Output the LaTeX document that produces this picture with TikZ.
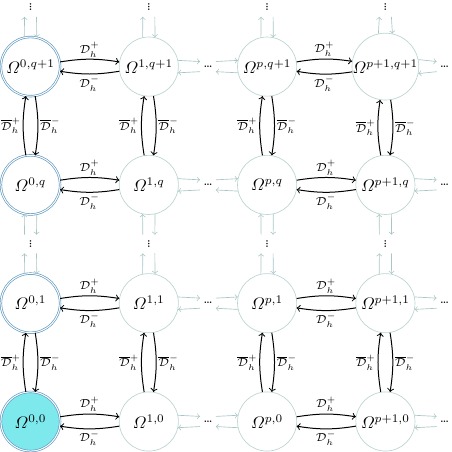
\documentclass[tikz,border=0pt]{standalone}
\usepackage{amsmath}
\usepackage{graphicx}
\definecolor{gl}{RGB}{168,198,196}
\definecolor{gc}{RGB}{186,212,210}
\definecolor{bl}{RGB}{95,152,192}
\definecolor{cy}{RGB}{125,233,237}
\begin{document}
\begin{tikzpicture}[x=2.5cm,y=2.5cm,
  om/.style={circle,draw=gc,inner sep=0pt,minimum size=1.25cm},
  omb/.style={circle,draw=bl,double,double distance=0.6pt,inner sep=0pt,minimum size=1.25cm},
  dk/.style={->,semithick,bend left=9},
  lt/.style={->,gl},
  dotsfont/.style={font=\fontsize{5.5}{6}\selectfont\bfseries},
  hd/.style={dotsfont,inner sep=0pt,minimum width=0.32cm,minimum height=0.2cm},
  vd/.style={dotsfont,inner sep=0pt,minimum width=0.24cm,minimum height=0.38cm},
  lab/.style={font=\scriptsize,inner sep=1pt}]
\useasboundingbox (-0.258,-0.258) rectangle (3.563,3.563);
% column 0
\node[omb,fill=cy] (n00) at (0,0) {$\varOmega^{0,0}$};
\node[omb] (n01) at (0,1) {$\varOmega^{0,1}$};
\node[omb] (n02) at (0,2) {$\varOmega^{0,q}$};
\node[omb] (n03) at (0,3) {$\varOmega^{0,q+1}$};
% other columns
\foreach \c/\cs in {1/1,2/p,3/p+1}
  \foreach \r/\rs in {0/0,1/1,2/q,3/q+1}
    \node[om] (n\c\r) at (\c,\r) {$\varOmega^{\cs,\rs}$};
% dots nodes
\foreach \r in {0,1,2,3} {
  \node[hd] (m\r) at (1.5,\r) {\ldots};
  \node[hd] (e\r) at (3.5,\r) {\ldots};
}
\foreach \c in {0,1,2,3} {
  \node[vd] (v\c) at (\c,1.5) {\rotatebox{90}{\ldots}};
  \node[vd] (t\c) at (\c,3.5) {\rotatebox{90}{\ldots}};
}
% black horizontal arrows
\foreach \a/\b in {0/1,2/3}
  \foreach \r in {0,1,2,3} {
    \draw[dk] (n\a\r) to node[lab,above]{$\mathcal{D}_h^+$} (n\b\r);
    \draw[dk] (n\b\r) to node[lab,below]{$\mathcal{D}_h^-$} (n\a\r);
  }
% black vertical arrows
\foreach \c in {0,1,2,3}
  \foreach \a/\b in {0/1,2/3} {
    \draw[dk] (n\c\a) to node[lab,left]{$\overline{\mathcal{D}}_h^+$} (n\c\b);
    \draw[dk] (n\c\b) to node[lab,right]{$\overline{\mathcal{D}}_h^-$} (n\c\a);
  }
% light horizontal arrows
\foreach \r in {0,1,2,3} {
  \draw[lt] (n1\r.12) -- (m\r.north west);
  \draw[lt] (m\r.north east) -- (n2\r.168);
  \draw[lt] (n2\r.192) -- (m\r.south east);
  \draw[lt] (m\r.south west) -- (n1\r.348);
  \draw[lt] (n3\r.12) -- (e\r.north west);
  \draw[lt] (e\r.south west) -- (n3\r.348);
}
% light vertical arrows
\foreach \c in {0,1,2,3} {
  \draw[lt] (n\c2.282) -- (v\c.north east);
  \draw[lt] (v\c.north west) -- (n\c2.258);
  \draw[lt] (n\c1.102) -- (v\c.south west);
  \draw[lt] (v\c.south east) -- (n\c1.78);
  \draw[lt] (n\c3.102) -- (t\c.south west);
  \draw[lt] (t\c.south east) -- (n\c3.78);
}
\end{tikzpicture}
\end{document}
